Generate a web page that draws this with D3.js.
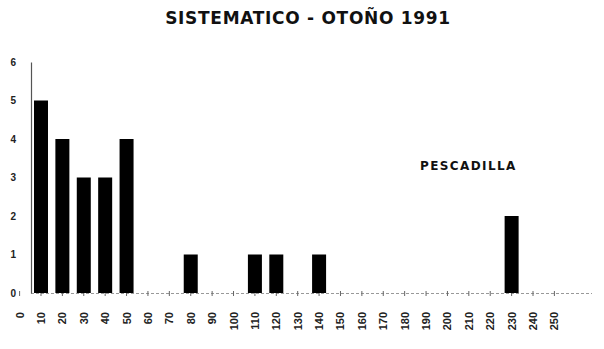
<!DOCTYPE html>
<html><head><meta charset="utf-8">
<script src="https://cdn.jsdelivr.net/npm/d3@7"></script>
<style>body{margin:0;background:#fff}svg{display:block}</style>
</head><body>
<svg id="c" width="604" height="349"></svg>
<script>
const title = "SISTEMATICO - OTOÑO 1991";
const seriesLabel = "PESCADILLA";
const categories = [0,10,20,30,40,50,60,70,80,90,100,110,120,130,140,150,160,170,180,190,200,210,220,230,240,250];
const values =     [0,5,4,3,3,4,0,0,1,0,0,1,1,0,1,0,0,0,0,0,0,0,0,2,0,0];
const yTicks = [0,1,2,3,4,5,6];

const svg = d3.select("#c");
const x = d3.scaleLinear().domain([0,250]).range([19.6,554.4]);
const y = d3.scaleLinear().domain([0,6]).range([293,62]);
const bw = 14;

svg.append("text").attr("x",308).attr("y",24).attr("text-anchor","middle")
  .attr("font-family","DejaVu Sans, sans-serif").attr("font-weight","bold")
  .attr("font-size",17).attr("letter-spacing",0.7).attr("fill","#111").text(title);

// baseline
svg.append("line").attr("x1",31).attr("x2",592).attr("y1",293.5).attr("y2",293.5)
  .attr("stroke","#999").attr("stroke-width",1).attr("stroke-dasharray","3,2");
svg.selectAll(".tk").data(categories).join("line")
  .attr("x1",d=>x(d)).attr("x2",d=>x(d)).attr("y1",291).attr("y2",296)
  .attr("stroke","#666").attr("stroke-width",1);

// y axis
const ya = svg.append("g").attr("transform","translate(31,0)")
  .call(d3.axisLeft(y).tickValues(yTicks).tickSize(0).tickPadding(15).tickFormat(d3.format("d")));
ya.select(".domain").attr("stroke","#555").attr("stroke-width",1.2);
ya.selectAll("text").attr("font-family","Liberation Sans, Arial, sans-serif").attr("font-size",10).attr("font-weight","bold").attr("fill","#222");

// bars
svg.selectAll(".bar").data(categories.map((c,i)=>({c,v:values[i]})).filter(d=>d.v>0)).join("rect")
  .attr("x",d=>x(d.c)-bw/2).attr("width",bw)
  .attr("y",d=>y(d.v)).attr("height",d=>y(0)-y(d.v)).attr("fill","#000");

// x labels
svg.selectAll(".xl").data(categories).join("text")
  .attr("transform",d=>`translate(${x(d)+4},312) rotate(-90)`)
  .attr("text-anchor","end")
  .attr("font-family","Liberation Sans, Arial, sans-serif").attr("font-size",11).attr("font-weight","bold").attr("fill","#222")
  .text(d=>d);

svg.append("text").attr("x",420).attr("y",170)
  .attr("font-family","DejaVu Sans, sans-serif").attr("font-weight","bold")
  .attr("font-size",12).attr("letter-spacing",1.4).attr("fill","#111").text(seriesLabel);
</script>
</body></html>
